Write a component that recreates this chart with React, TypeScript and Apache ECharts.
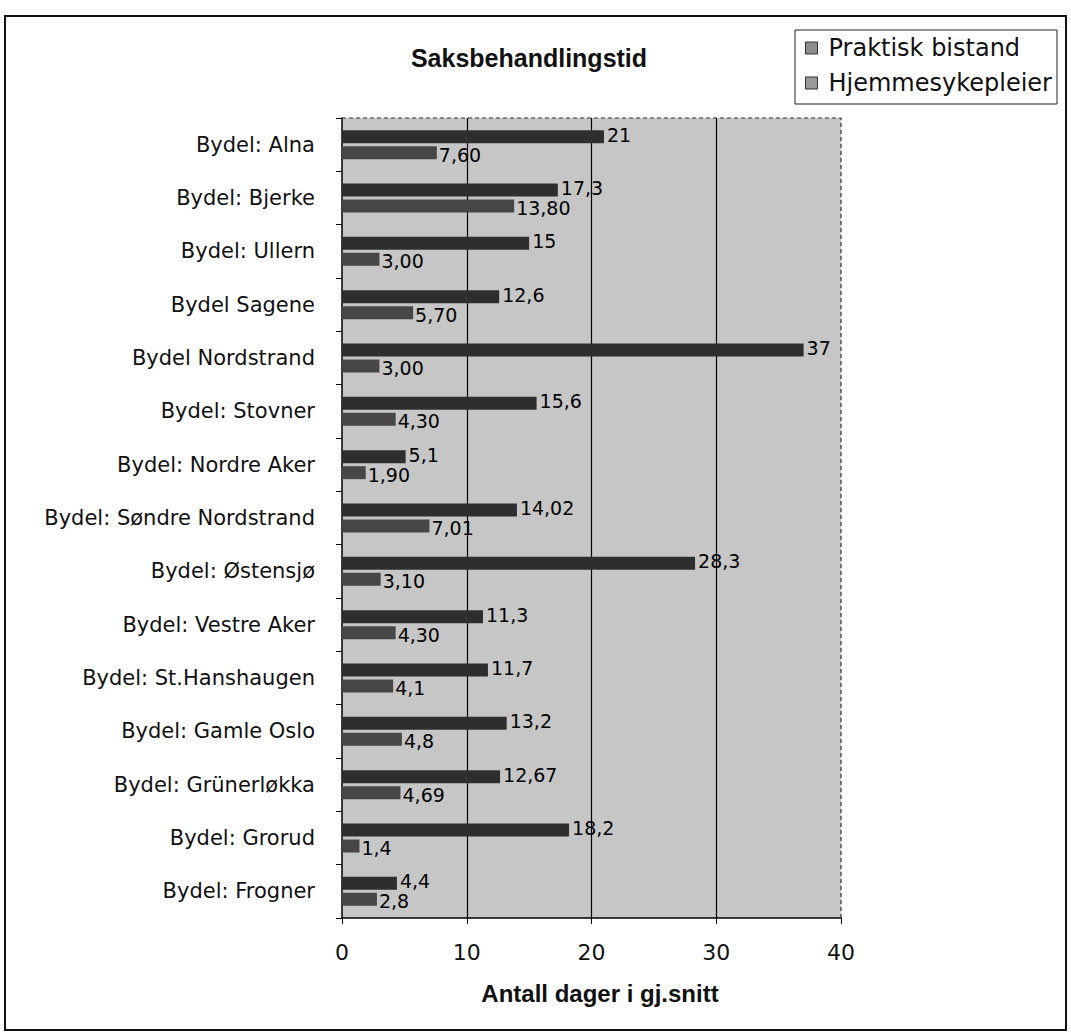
import { useEffect, useRef } from "react";
import * as echarts from "echarts";

const categories = [
  "Bydel: Alna",
  "Bydel: Bjerke",
  "Bydel: Ullern",
  "Bydel Sagene",
  "Bydel Nordstrand",
  "Bydel: Stovner",
  "Bydel: Nordre Aker",
  "Bydel: Søndre Nordstrand",
  "Bydel: Østensjø",
  "Bydel: Vestre Aker",
  "Bydel: St.Hanshaugen",
  "Bydel: Gamle Oslo",
  "Bydel: Grünerløkka",
  "Bydel: Grorud",
  "Bydel: Frogner",
];

const praktisk = [21, 17.3, 15, 12.6, 37, 15.6, 5.1, 14.02, 28.3, 11.3, 11.7, 13.2, 12.67, 18.2, 4.4];
const praktiskLabels = ["21", "17,3", "15", "12,6", "37", "15,6", "5,1", "14,02", "28,3", "11,3", "11,7", "13,2", "12,67", "18,2", "4,4"];

const hjemme = [7.6, 13.8, 3.0, 5.7, 3.0, 4.3, 1.9, 7.01, 3.1, 4.3, 4.1, 4.8, 4.69, 1.4, 2.8];
const hjemmeLabels = ["7,60", "13,80", "3,00", "5,70", "3,00", "4,30", "1,90", "7,01", "3,10", "4,30", "4,1", "4,8", "4,69", "1,4", "2,8"];

const xTicks = { min: 0, max: 40, interval: 10 };

export default function App() {
  const ref = useRef<HTMLDivElement>(null);

  useEffect(() => {
    const chart = echarts.init(ref.current!, null, { renderer: "svg" });
    const L = 342, R = 841, T = 118, B = 918;
    const labelFont = { fontFamily: "DejaVu Sans", fontSize: 19, color: "#000" };
    chart.setOption({
      animation: false,
      backgroundColor: "#ffffff",
      title: {
        text: "Saksbehandlingstid",
        left: 524,
        top: 40,
        textAlign: "center",
        textStyle: { fontFamily: "Liberation Sans", fontWeight: "bold", fontSize: 25, color: "#111" },
      },
      legend: {
        orient: "vertical",
        left: 795,
        top: 30,
        padding: [6, 5, 9, 10],
        itemWidth: 12,
        itemHeight: 12,
        itemGap: 11,
        icon: "rect",
        borderColor: "#222",
        borderWidth: 1,
        backgroundColor: "#fff",
        textStyle: { fontFamily: "DejaVu Sans", fontSize: 24, color: "#111", lineHeight: 24, padding: [0, 0, 0, 6] },
        data: [
          { name: "Praktisk bistand", itemStyle: { color: "#8c8c8c", borderColor: "#333", borderWidth: 1 } },
          { name: "Hjemmesykepleier", itemStyle: { color: "#9a9a9a", borderColor: "#333", borderWidth: 1 } },
        ],
      },
      grid: {
        left: L,
        top: T,
        width: R - L,
        height: B - T,
        show: true,
        backgroundColor: "#c6c6c6",
        borderWidth: 0,
      },
      xAxis: {
        type: "value",
        min: xTicks.min,
        max: xTicks.max,
        interval: xTicks.interval,
        axisLine: { show: true, lineStyle: { color: "#000", width: 1.5 } },
        axisTick: { show: true, length: 6, lineStyle: { color: "#000" } },
        axisLabel: { margin: 23, fontFamily: "DejaVu Sans", fontSize: 22, color: "#111" },
        splitLine: { show: true, showMinLine: false, showMaxLine: false, lineStyle: { color: "#000", width: 1.2 } },
      },
      yAxis: {
        type: "category",
        data: categories,
        inverse: true,
        axisLine: { show: true, onZero: false, lineStyle: { color: "#000", width: 1.5 } },
        axisTick: { show: true, length: 6, alignWithLabel: false, lineStyle: { color: "#000" } },
        axisLabel: { margin: 27, fontFamily: "DejaVu Sans", fontSize: 21, color: "#111" },
      },
      series: [
        {
          name: "Praktisk bistand",
          type: "bar",
          data: praktisk,
          barWidth: 13,
          barGap: "23%",
          itemStyle: { color: "#2e2e2e" },
          label: {
            show: true,
            position: "right",
            distance: 3,
            offset: [0, -2],
            formatter: (p: any) => praktiskLabels[p.dataIndex],
            ...labelFont,
          },
        },
        {
          name: "Hjemmesykepleier",
          type: "bar",
          data: hjemme,
          barWidth: 13,
          itemStyle: { color: "#474747" },
          label: {
            show: true,
            position: "right",
            distance: 2,
            offset: [0, 2],
            formatter: (p: any) => hjemmeLabels[p.dataIndex],
            ...labelFont,
          },
        },
      ],
      graphic: [
        {
          type: "rect",
          silent: true,
          z: 100,
          shape: { x: 5, y: 16, width: 1061, height: 1014 },
          style: { fill: "none", stroke: "#111", lineWidth: 2 },
        },
        {
          type: "polyline",
          silent: true,
          z: 100,
          shape: { points: [[L, T], [R, T], [R, B]] },
          style: { fill: "none", stroke: "#333", lineWidth: 1.2, lineDash: [4, 3] },
        },
        {
          type: "text",
          silent: true,
          x: 600,
          y: 993,
          style: {
            text: "Antall dager i gj.snitt",
            fontFamily: "Liberation Sans",
            fontWeight: "bold",
            fontSize: 24,
            fill: "#111",
            align: "center",
            verticalAlign: "middle",
          },
        },
      ],
    });
    return () => chart.dispose();
  }, []);

  return (
    <div
      ref={ref}
      style={{ position: "absolute", left: 0, top: 0, width: 1071, height: 1035, background: "#fff" }}
    />
  );
}
